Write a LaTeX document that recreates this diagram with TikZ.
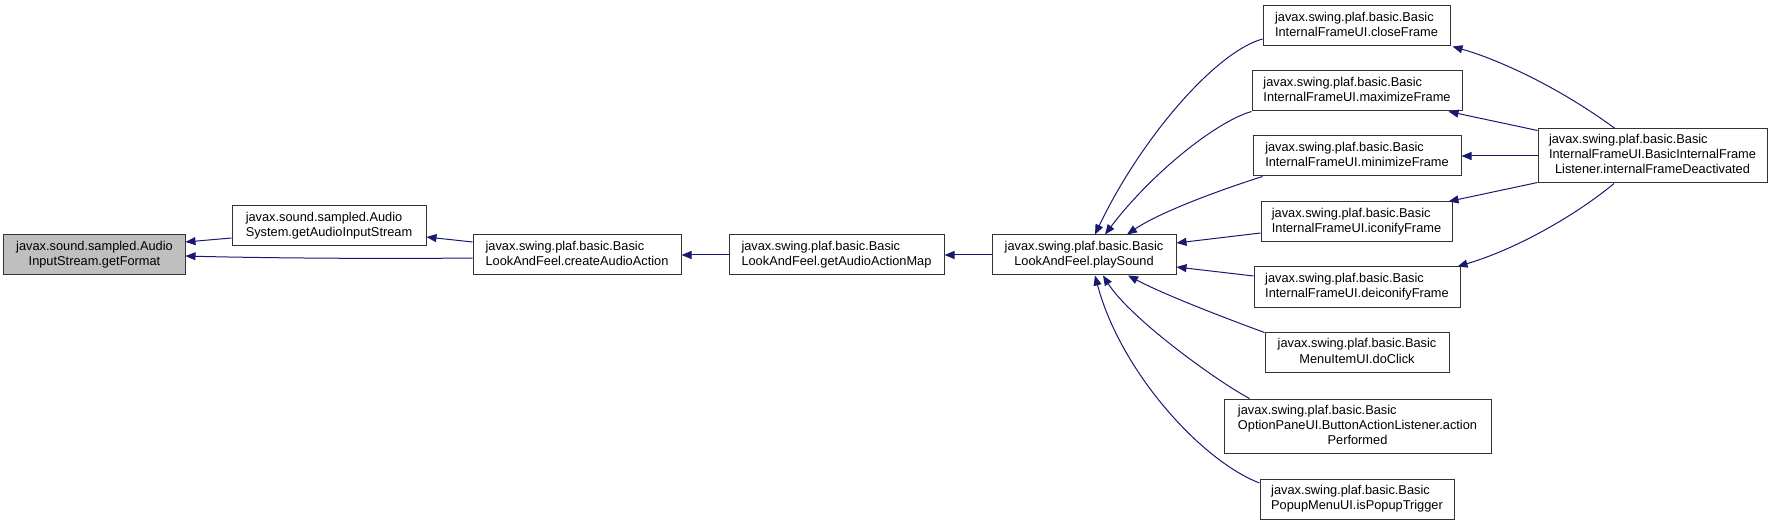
\documentclass[tikz,border=0pt]{standalone}
\usepackage{fontspec}
\setmainfont{Liberation Sans}
\usetikzlibrary{arrows.meta,calc}
\definecolor{edgeblue}{HTML}{191970}
\definecolor{nodegray}{HTML}{BFBFBF}
\definecolor{boxline}{HTML}{333333}
\newcommand\labtwo[2]{\begin{tabular}{@{}l@{}}#1\\\multicolumn{1}{@{}c@{}}{#2}\end{tabular}}
\newcommand\labthree[3]{\begin{tabular}{@{}l@{}}#1\\#2\\\multicolumn{1}{@{}c@{}}{#3}\end{tabular}}
\begin{document}
\begin{tikzpicture}[x=1bp,y=-1bp,
  box/.style={draw=boxline, line width=1bp, fill=white, inner sep=0pt, rectangle,
    font=\fontsize{12.8bp}{15bp}\selectfont},
  sz/.style 2 args={minimum width=#1bp, minimum height=#2bp},
  edge/.style={draw=edgeblue, line width=1bp, -{Triangle[length=10bp,width=8bp]}}
]
\useasboundingbox[fill=white] (0,0) rectangle (1773,525);

% nodes
\node[box, sz={181}{40}, fill=nodegray] (fmt) at (94.5,255) {\labtwo{javax.sound.sampled.Audio}{InputStream.getFormat}};
\node[box, sz={194}{40}] (as) at (329,226) {\labtwo{javax.sound.sampled.Audio}{System.getAudioInputStream}};
\node[box, sz={208}{40}] (caa) at (577,255) {\labtwo{javax.swing.plaf.basic.Basic}{LookAndFeel.createAudioAction}};
\node[box, sz={215}{40}] (gaam) at (836.5,255) {\labtwo{javax.swing.plaf.basic.Basic}{LookAndFeel.getAudioActionMap}};
\node[box, sz={184}{40}] (ps) at (1084,255) {\labtwo{javax.swing.plaf.basic.Basic}{LookAndFeel.playSound}};
\node[box, sz={187}{40}] (close) at (1356.5,26) {\labtwo{javax.swing.plaf.basic.Basic}{InternalFrameUI.closeFrame}};
\node[box, sz={210}{40}] (max) at (1357,91) {\labtwo{javax.swing.plaf.basic.Basic}{InternalFrameUI.maximizeFrame}};
\node[box, sz={208}{40}] (min) at (1357,156) {\labtwo{javax.swing.plaf.basic.Basic}{InternalFrameUI.minimizeFrame}};
\node[box, sz={191}{40}] (icon) at (1356.5,222) {\labtwo{javax.swing.plaf.basic.Basic}{InternalFrameUI.iconifyFrame}};
\node[box, sz={206}{40}] (deicon) at (1357,287) {\labtwo{javax.swing.plaf.basic.Basic}{InternalFrameUI.deiconifyFrame}};
\node[box, sz={229}{54}] (ifd) at (1652.5,156) {\labthree{javax.swing.plaf.basic.Basic}{InternalFrameUI.BasicInternalFrame}{Listener.internalFrameDeactivated}};
\node[box, sz={184}{39}] (click) at (1357,352.5) {\labtwo{javax.swing.plaf.basic.Basic}{MenuItemUI.doClick}};
\node[box, sz={267}{54}] (ap) at (1357.5,426) {\labthree{javax.swing.plaf.basic.Basic}{OptionPaneUI.ButtonActionListener.action}{Performed}};
\node[box, sz={194}{40}] (popup) at (1357,499) {\labtwo{javax.swing.plaf.basic.Basic}{PopupMenuUI.isPopupTrigger}};

% left part
\draw[edge] ($(as.west)+(0,12)$) -- ($(fmt.east)+(0,-13)$);
\draw[edge] ($(caa.west)+(0,3)$) .. controls (380,259) and (260,258) .. ($(fmt.east)+(0,1)$);
\draw[edge] ($(caa.west)+(0,-13)$) -- ($(as.east)+(0,11)$);
\draw[edge] (gaam.west) -- (caa.east);
\draw[edge] (ps.west) -- (gaam.east);

% callers of playSound
\draw[edge] ($(close.west)+(0,13)$) .. controls (1215,52) and (1140,140) .. ($(ps.north)+(11,0)$);
\draw[edge] (max.south west) .. controls (1215,122) and (1150,175) .. ($(ps.north)+(21,0)$);
\draw[edge] ($(min.south west)+(10,0)$) .. controls (1220,190) and (1160,212) .. ($(ps.north)+(43,0)$);
\draw[edge] ($(icon.west)+(0,11)$) -- ($(ps.east)+(0,-12)$);
\draw[edge] ($(deicon.west)+(0,-11)$) -- ($(ps.east)+(0,12)$);
\draw[edge] (click.north west) .. controls (1225,318) and (1165,295) .. ($(ps.south)+(44,0)$);
\draw[edge] ($(ap.north west)+(26,0)$) .. controls (1215,380) and (1130,318) .. ($(ps.south)+(19,0)$);
\draw[edge] ($(popup.west)+(0,-16)$) .. controls (1200,460) and (1120,370) .. ($(ps.south)+(11,0)$);

% callers from internalFrameDeactivated
\draw[edge] ($(ifd.north)+(-37.5,0)$) .. controls (1560,88) and (1500,60) .. ($(close.south east)+(2,0)$);
\draw[edge] ($(ifd.north west)+(0,2)$) -- ($(max.south east)+(-14,0)$);
\draw[edge] (ifd.west) -- (min.east);
\draw[edge] ($(ifd.south west)+(0,-1)$) -- ($(icon.north east)+(-4,0)$);
\draw[edge] ($(ifd.south)+(-38.5,0)$) .. controls (1580,212) and (1520,248) .. ($(deicon.north east)+(-3,0)$);
\end{tikzpicture}
\end{document}
